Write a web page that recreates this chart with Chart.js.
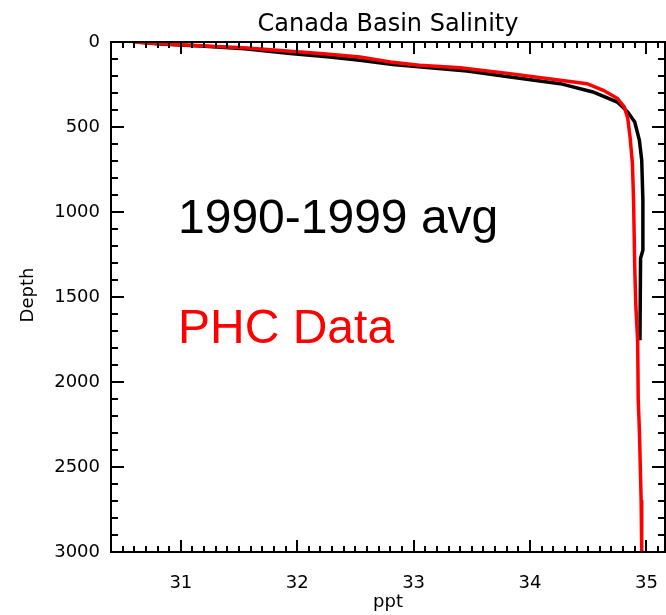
<!DOCTYPE html>
<html>
<head>
<meta charset="utf-8">
<script src="https://cdn.jsdelivr.net/npm/chart.js@4/dist/chart.umd.min.js"></script>
<style>
  html, body { margin: 0; padding: 0; background: #ffffff; }
  #wrap { width: 666px; height: 615px; }
</style>
</head>
<body>
<div id="wrap"><canvas id="c" width="666" height="615"></canvas></div>
<script>
// ---- data ----
const chartTitle = "Canada Basin Salinity";
const xAxisTitle = "ppt";
const yAxisTitle = "Depth";
const xTickValues = [31, 32, 33, 34, 35];
const yTickValues = [0, 500, 1000, 1500, 2000, 2500, 3000];

const avgLabel = "1990-1999 avg";
const avgDepth    = [0, 12, 24, 40, 68, 88, 108, 133, 151, 171, 206, 245, 294, 353, 412, 471, 578, 696, 931, 1225, 1272, 1755];
const avgSalinity = [30.62, 30.82, 31.17, 31.55, 31.94, 32.28, 32.54, 32.82, 33.14, 33.46, 33.83, 34.26, 34.54, 34.75, 34.84, 34.90, 34.94, 34.96, 34.97, 34.97, 34.95, 34.945];

const phcLabel = "PHC Data";
const phcDepth    = [0, 10, 22, 34, 46, 68, 88, 118, 137, 151, 186, 225, 245, 284, 331, 382, 449, 560, 714, 931, 1325, 1560, 1755, 2108, 2284, 2696, 3000];
const phcSalinity = [30.60, 30.82, 31.17, 31.54, 31.77, 32.20, 32.54, 32.80, 33.05, 33.40, 33.83, 34.26, 34.49, 34.63, 34.75, 34.81, 34.84, 34.86, 34.88, 34.89, 34.90, 34.91, 34.925, 34.93, 34.94, 34.955, 34.96];

const toPoints = (xs, ys) => xs.map((v, i) => ({ x: v, y: ys[i] }));

// ---- decorations: box, inward ticks on all sides, titles, annotations ----
const decor = {
  id: 'decor',
  afterDraw(chart) {
    const ctx = chart.ctx;
    const a = chart.chartArea;
    const xs = chart.scales.x, ys = chart.scales.y;
    ctx.save();
    ctx.strokeStyle = '#000';
    ctx.lineWidth = 2;
    ctx.strokeRect(a.left, a.top, a.right - a.left, a.bottom - a.top);
    ctx.beginPath();
    for (let k = Math.ceil(xs.min * 10); k <= Math.floor(xs.max * 10); k++) {
      const px = Math.round(xs.getPixelForValue(k / 10));
      const len = (k % 10 === 0) ? 12 : 6;
      ctx.moveTo(px, a.bottom); ctx.lineTo(px, a.bottom - len);
      ctx.moveTo(px, a.top); ctx.lineTo(px, a.top + len);
    }
    for (let d = 0; d <= 3000; d += 100) {
      const py = Math.round(ys.getPixelForValue(d));
      const len = (d % 500 === 0) ? 13 : 7;
      ctx.moveTo(a.left, py); ctx.lineTo(a.left + len, py);
      ctx.moveTo(a.right, py); ctx.lineTo(a.right - len, py);
    }
    ctx.stroke();

    ctx.fillStyle = '#000';
    ctx.textAlign = 'center';
    ctx.textBaseline = 'alphabetic';
    ctx.font = '24px "DejaVu Sans", sans-serif';
    ctx.fillText(chartTitle, (a.left + a.right) / 2, 31);
    ctx.font = '18px "DejaVu Sans", sans-serif';
    ctx.fillText(xAxisTitle, (a.left + a.right) / 2, 607);
    ctx.save();
    ctx.translate(33, 295);
    ctx.rotate(-Math.PI / 2);
    ctx.fillText(yAxisTitle, 0, 0);
    ctx.restore();

    ctx.textAlign = 'left';
    ctx.font = '48px "Comic Sans MS", "Liberation Sans", sans-serif';
    ctx.fillStyle = '#000000';
    ctx.fillText(avgLabel, 178, 233);
    ctx.fillStyle = '#ff0000';
    ctx.fillText(phcLabel, 178, 343);
    ctx.restore();
  }
};

function zeroPad(s) { s.paddingLeft = 0; s.paddingRight = 0; s.paddingTop = 0; s.paddingBottom = 0; }

new Chart(document.getElementById('c'), {
  type: 'line',
  data: {
    datasets: [
      {
        label: phcLabel,
        data: toPoints(phcSalinity, phcDepth),
        borderColor: '#ff0000',
        borderWidth: 3.5,
        pointRadius: 0,
        tension: 0,
        fill: false
      },
      {
        label: avgLabel,
        data: toPoints(avgSalinity, avgDepth),
        borderColor: '#000000',
        borderWidth: 3.5,
        pointRadius: 0,
        tension: 0,
        fill: false
      }
    ]
  },
  options: {
    responsive: false,
    animation: false,
    devicePixelRatio: 1,
    layout: { padding: { top: 42, right: 1, left: 0, bottom: 0 } },
    plugins: {
      legend: { display: false },
      title: { display: false },
      tooltip: { enabled: false }
    },
    scales: {
      x: {
        type: 'linear',
        min: 30.4,
        max: 35.16,
        afterFit(s) { s.height = 63; zeroPad(s); },
        afterBuildTicks(s) { s.ticks = xTickValues.map(v => ({ value: v })); },
        grid: { display: false, drawTicks: false, tickLength: 0 },
        border: { display: false },
        ticks: {
          padding: 21,
          color: '#000',
          autoSkip: false,
          maxRotation: 0,
          font: { family: '"DejaVu Sans", sans-serif', size: 18 },
          callback: v => String(v)
        }
      },
      y: {
        type: 'linear',
        reverse: true,
        min: 0,
        max: 3000,
        afterFit(s) { s.width = 111; zeroPad(s); },
        afterBuildTicks(s) { s.ticks = yTickValues.map(v => ({ value: v })); },
        grid: { display: false, drawTicks: false, tickLength: 0 },
        border: { display: false },
        ticks: {
          padding: 11,
          color: '#000',
          autoSkip: false,
          font: { family: '"DejaVu Sans", sans-serif', size: 18 },
          callback: v => String(v)
        }
      }
    }
  },
  plugins: [decor]
});
</script>
</body>
</html>
